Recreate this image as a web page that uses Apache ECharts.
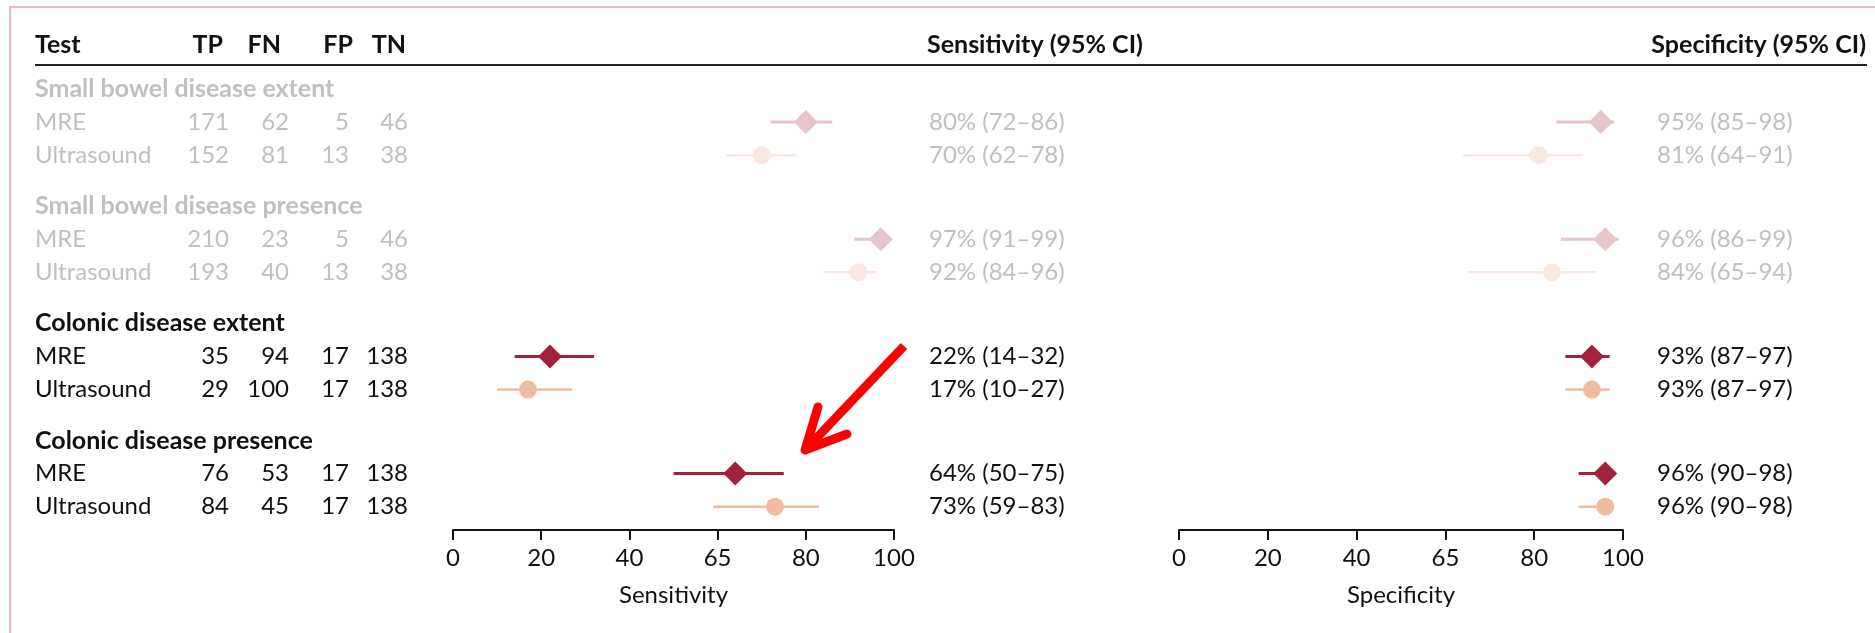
<!DOCTYPE html>
<html><head><meta charset="utf-8">
<script src="https://cdn.jsdelivr.net/npm/echarts@6/dist/echarts.min.js"></script>
<style>html,body{margin:0;padding:0;background:#fff}#c{width:1875px;height:633px}</style>
</head><body><div id="c"></div>
<script>
// ---- data ----
const groups = ['Small bowel disease extent', 'Small bowel disease presence', 'Colonic disease extent', 'Colonic disease presence'];
const groupFaded = [true, true, false, false];
const tests = ['MRE', 'Ultrasound'];
const TP = [171, 152, 210, 193, 35, 29, 76, 84];
const FN = [62, 81, 23, 40, 94, 100, 53, 45];
const FP = [5, 13, 5, 13, 17, 17, 17, 17];
const TN = [46, 38, 46, 38, 138, 138, 138, 138];
const sens = [80, 70, 97, 92, 22, 17, 64, 73];
const sensLo = [72, 62, 91, 84, 14, 10, 50, 59];
const sensHi = [86, 78, 99, 96, 32, 27, 75, 83];
const spec = [95, 81, 96, 84, 93, 93, 96, 96];
const specLo = [85, 64, 86, 65, 87, 87, 90, 90];
const specHi = [98, 91, 99, 94, 97, 97, 98, 98];
const tickLabels = ['0', '20', '40', '65', '80', '100'];
const headers = ['Test', 'TP', 'FN', 'FP', 'TN', 'Sensitivity (95% CI)', 'Specificity (95% CI)'];

// ---- layout / style ----
const FONT = 'Lato, "Open Sans", sans-serif';
const FS = 24, FSB = 25;
const Y0 = 89, U = 33.1, GAP = 1.54, AXIS_Y = 530;
const yMax = (AXIS_Y - Y0) / U;
const pos = (g, r) => g * (2 + GAP) + r;
const py = p => Y0 + p * U;
const COL = {
  mre: '#a2213d', us: '#f0bb9f', mreF: '#e6c5cb', usF: '#f9e8e1',
  text: '#111111', grey: '#c0c0c0'
};

// rows
const rowPos = [], rowColor = [], rowSym = [], rowSize = [], rowLW = [];
groups.forEach((g, gi) => {
  tests.forEach((t, ti) => {
    rowPos.push(pos(gi, ti + 1));
    const f = groupFaded[gi];
    rowColor.push(ti === 0 ? (f ? COL.mreF : COL.mre) : (f ? COL.usF : COL.us));
    rowSym.push(ti === 0 ? 'diamond' : 'circle');
    rowSize.push(ti === 0 ? 24 : 18);
    rowLW.push(ti === 0 ? 3 : 2.5);
  });
});

function ciSeries(gridIdx, lo, hi) {
  return {
    type: 'custom', xAxisIndex: gridIdx, yAxisIndex: gridIdx, z: 2,
    data: lo.map((l, i) => [l, hi[i], rowPos[i], i]),
    encode: { x: [0, 1], y: 2 },
    renderItem: (params, api) => {
      const i = api.value(3);
      const a = api.coord([api.value(0), api.value(2)]);
      const b = api.coord([api.value(1), api.value(2)]);
      return { type: 'line', shape: { x1: a[0], y1: a[1], x2: b[0], y2: b[1] },
        style: { stroke: rowColor[i], lineWidth: rowLW[i] } };
    }
  };
}
function ptSeries(gridIdx, est) {
  return {
    type: 'scatter', xAxisIndex: gridIdx, yAxisIndex: gridIdx, z: 3,
    data: est.map((v, i) => ({ value: [v, rowPos[i]], symbol: rowSym[i], symbolSize: rowSize[i],
      itemStyle: { color: rowColor[i], opacity: 1 } })),
    silent: true
  };
}
function xAx(gridIdx, name) {
  return {
    type: 'value', gridIndex: gridIdx, min: 0, max: 100, interval: 20, position: 'bottom',
    axisLine: { show: true, onZero: false, lineStyle: { color: '#111', width: 2 } },
    axisTick: { show: true, length: 10, lineStyle: { color: '#111', width: 2 } },
    splitLine: { show: false },
    axisLabel: { margin: 16, fontFamily: FONT, fontSize: FS, color: COL.text,
      formatter: v => tickLabels[Math.round(v / 20)] },
    name: name, nameLocation: 'middle', nameGap: 53,
    nameTextStyle: { fontFamily: FONT, fontSize: FS, color: COL.text }
  };
}
function yAx(gridIdx) {
  return { type: 'value', gridIndex: gridIdx, min: -1, max: yMax, inverse: true, show: false };
}

// ---- text via graphic ----
const g = [];
function txt(s, x, y, opt) {
  g.push({ type: 'text', x: x, y: y, silent: true, z: 10,
    style: Object.assign({ text: s, fill: COL.text, font: FS + 'px ' + FONT, align: 'left', verticalAlign: 'middle' }, opt || {}) });
}
const BOLD = 'bold ' + FSB + 'px ' + FONT;
txt(headers[0], 35, 45, { font: BOLD });
txt(headers[1], 223, 45, { font: BOLD, align: 'right' });
txt(headers[2], 281, 45, { font: BOLD, align: 'right' });
txt(headers[3], 353, 45, { font: BOLD, align: 'right' });
txt(headers[4], 406, 45, { font: BOLD, align: 'right' });
txt(headers[5], 927, 45, { font: BOLD });
txt(headers[6], 1866, 45, { font: BOLD, align: 'right' });
g.push({ type: 'line', silent: true, shape: { x1: 35, y1: 65, x2: 1867, y2: 65 }, style: { stroke: '#222', lineWidth: 2 } });
groups.forEach((name, gi) => {
  const c = groupFaded[gi] ? COL.grey : COL.text;
  txt(name, 35, py(pos(gi, 0)), { font: BOLD, fill: c });
  tests.forEach((t, ti) => {
    const i = gi * 2 + ti, y = py(rowPos[i]);
    txt(t, 35, y, { fill: c });
    txt(String(TP[i]), 229, y, { fill: c, align: 'right' });
    txt(String(FN[i]), 289, y, { fill: c, align: 'right' });
    txt(String(FP[i]), 349, y, { fill: c, align: 'right' });
    txt(String(TN[i]), 408, y, { fill: c, align: 'right' });
    txt(sens[i] + '% (' + sensLo[i] + '\u2013' + sensHi[i] + ')', 929, y, { fill: c });
    txt(spec[i] + '% (' + specLo[i] + '\u2013' + specHi[i] + ')', 1657, y, { fill: c });
  });
});
// frame
g.push({ type: 'polyline', silent: true, shape: { points: [[10, 640], [10, 7], [1880, 7]] },
  style: { stroke: '#e3a3ad', lineWidth: 1.5, fill: null } });
// red arrow annotation
g.push({ type: 'polyline', silent: true, z: 20, shape: { points: [[904, 346], [808, 447]] },
  style: { stroke: '#ff0000', lineWidth: 9, fill: null, lineCap: 'butt' } });
g.push({ type: 'polyline', silent: true, z: 20, shape: { points: [[818, 407], [805, 450], [847, 434]] },
  style: { stroke: '#ff0000', lineWidth: 9, fill: null, lineCap: 'round', lineJoin: 'round' } });

const chart = echarts.init(document.getElementById('c'), null, { renderer: 'canvas' });
chart.setOption({
  animation: false,
  backgroundColor: '#ffffff',
  grid: [
    { left: 453, width: 441, top: Y0 - U, height: AXIS_Y - (Y0 - U) },
    { left: 1179, width: 444, top: Y0 - U, height: AXIS_Y - (Y0 - U) }
  ],
  xAxis: [xAx(0, 'Sensitivity'), xAx(1, 'Specificity')],
  yAxis: [yAx(0), yAx(1)],
  series: [ciSeries(0, sensLo, sensHi), ptSeries(0, sens), ciSeries(1, specLo, specHi), ptSeries(1, spec)],
  graphic: g
});
</script></body></html>
